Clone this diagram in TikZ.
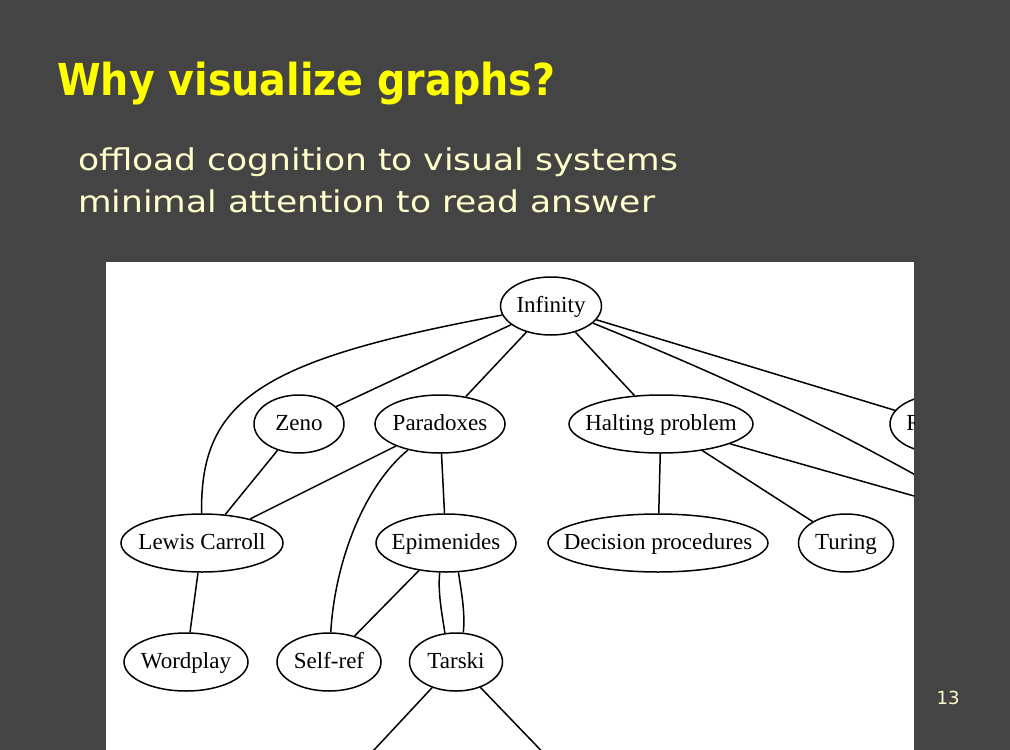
\documentclass[tikz,border=0pt]{standalone}
\usepackage{fontspec}
\setmainfont{Liberation Serif}
\newfontfamily\slidefont[FakeStretch=1.15]{DejaVu Sans}
\newfontfamily\titlefont[FakeStretch=0.9]{DejaVu Sans}
\usetikzlibrary{shapes.geometric}

\definecolor{slidebg}{HTML}{444444}
\definecolor{titleyellow}{HTML}{FFFF00}
\definecolor{cream}{HTML}{FFFFCC}

\tikzset{
  topic/.style={draw, ellipse, line width=1.5pt, inner sep=0pt,
    minimum height=58pt, text height=12pt, text depth=0pt,
    font=\fontsize{23}{26}\selectfont,
    execute at begin node={\hbox to 0pt\bgroup\hss},
    execute at end node={\hss\egroup}},
  link/.style={line width=1.5pt},
  slidetext/.style={anchor=base west, inner sep=0pt, text=cream,
    font=\slidefont\fontsize{30}{36}\selectfont}
}

\begin{document}
\begin{tikzpicture}[x=1pt,y=-1pt] % one unit is one pixel of the slide

  % Slide background
  \fill [slidebg] (0,0) rectangle (1010,750);
  \useasboundingbox (0,0) rectangle (1010,750);

  % Title and bullet lines
  \node [anchor=base west, inner sep=0pt, text=titleyellow,
    font=\titlefont\bfseries\fontsize{44}{50}\selectfont] (title) at (57,95) {Why visualize graphs?};
  \node [slidetext] (lineA) at (78,170) {offload cognition to visual systems};
  \node [slidetext] (lineB) at (78,212) {minimal attention to read answer};
  \node [text=cream, font=\fontspec{DejaVu Sans}\fontsize{18}{20}\selectfont] (pageno) at (948,698) {13};

  % White panel with the graph
  \fill [white] (106,262) rectangle (914,750);
  \begin{scope}
    \clip (106,262) rectangle (914,750);

    % Nodes
    \node [topic, minimum width=101pt] (inf) at (551,306) {Infinity};
    \node [topic, minimum width=90pt] (zeno) at (299,424) {Zeno};
    \node [topic, minimum width=130pt] (parad) at (440,424) {Paradoxes};
    \node [topic, minimum width=184pt] (halt) at (661,424) {Halting problem};
    \node [topic, minimum width=100pt] (rnode) at (940,424) {};
    \node [inner sep=0pt, anchor=base, font=\fontsize{23}{26}\selectfont] (rtext) at (914,430) {R};
    \node [topic, minimum width=162pt] (lewis) at (202,543) {Lewis Carroll};
    \node [topic, minimum width=140pt] (epim) at (446,543) {Epimenides};
    \node [topic, minimum width=220pt] (decis) at (658,543) {Decision procedures};
    \node [topic, minimum width=95pt] (turing) at (846,543) {Turing};
    \node [topic, minimum width=124pt] (word) at (186,662) {Wordplay};
    \node [topic, minimum width=104pt] (selfref) at (329,662) {Self-ref};
    \node [topic, minimum width=93pt] (tarski) at (456,662) {Tarski};

    % Loose ends outside the panel
    \coordinate (offA) at (960,500);
    \coordinate (offB) at (960,509);
    \coordinate (offC) at (360,765);
    \coordinate (offD) at (555,765);

    % Edges
    \draw [link] (inf) .. controls (260,360) and (200,400) .. (lewis);
    \draw [link] (inf) -- (zeno);
    \draw [link] (inf) -- (parad);
    \draw [link] (inf) -- (halt);
    \draw [link] (inf) -- (rnode);
    \draw [link] (inf) .. controls (720,375) and (820,420) .. (offA);
    \draw [link] (halt.-16) -- (offB);
    \draw [link] (zeno) -- (lewis);
    \draw [link] (parad) -- (lewis);
    \draw [link] (parad) .. controls (365,485) and (335,560) .. (selfref);
    \draw [link] (parad) -- (epim);
    \draw [link] (halt) -- (decis);
    \draw [link] (halt) -- (turing);
    \draw [link] (lewis) -- (word);
    \draw [link] (epim) -- (selfref);
    \draw [link] (epim.-102) .. controls +(-2,20) and +(-3,-20) .. (tarski.111);
    \draw [link] (epim.-67) .. controls +(3,20) and +(2,-20) .. (tarski.76);
    \draw [link] (tarski) -- (offC);
    \draw [link] (tarski) -- (offD);
  \end{scope}
\end{tikzpicture}
\end{document}
